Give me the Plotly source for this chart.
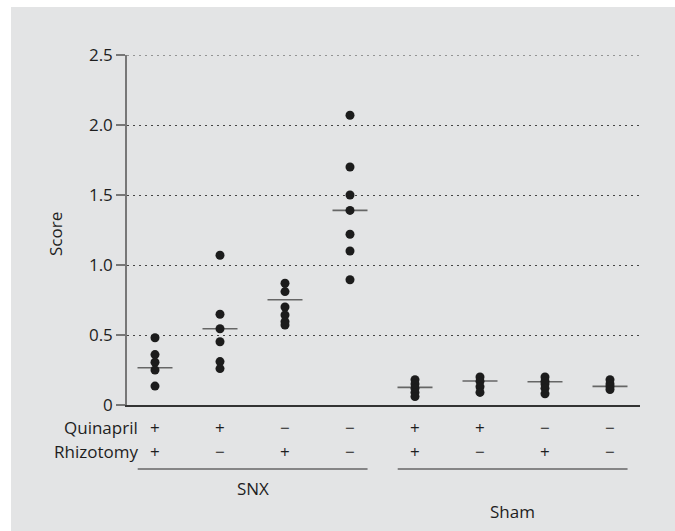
import plotly.graph_objects as go

# ---- data ----
group_x = [1, 2, 3, 4, 5, 6, 7, 8]
scores = [
    [0.48, 0.36, 0.305, 0.25, 0.135],
    [1.07, 0.648, 0.545, 0.452, 0.31, 0.26],
    [0.87, 0.81, 0.70, 0.643, 0.595, 0.571],
    [2.07, 1.70, 1.50, 1.39, 1.22, 1.10, 0.895],
    [0.18, 0.15, 0.12, 0.09, 0.06],
    [0.20, 0.17, 0.13, 0.09],
    [0.20, 0.17, 0.15, 0.12, 0.08],
    [0.18, 0.15, 0.13, 0.11],
]
medians = [0.266, 0.545, 0.752, 1.39, 0.126, 0.171, 0.166, 0.133]
quinapril = ["+", "+", "\u2212", "\u2212", "+", "+", "\u2212", "\u2212"]
rhizotomy = ["+", "\u2212", "+", "\u2212", "+", "\u2212", "+", "\u2212"]
group_names = ["SNX", "Sham"]
group_members = [[1, 2, 3, 4], [5, 6, 7, 8]]
y_ticks = [0, 0.5, 1.0, 1.5, 2.0, 2.5]
y_ticktext = ["0", "0.5", "1.0", "1.5", "2.0", "2.5"]

BG = "#e3e4e5"
FONT = "Open Sans"
TXT = "#1e1e1e"
FS = 17
SYM_FS = 17
GRID_COLOR = "#444444"
GRID_DASH = "2px,4px"

fig = go.Figure()

px_list, py_list = [], []
for gx, vals in zip(group_x, scores):
    for v in vals:
        px_list.append(gx)
        py_list.append(v)

fig.add_trace(go.Scatter(
    x=group_x, y=medians, mode="markers",
    marker=dict(symbol="line-ew", size=25, color="#666666",
                line=dict(color="#666666", width=1.6)),
    cliponaxis=False, hoverinfo="skip", showlegend=False))

fig.add_trace(go.Scatter(
    x=px_list, y=py_list, mode="markers",
    marker=dict(size=9, color="#1c1c1c", line=dict(width=0)),
    cliponaxis=False, showlegend=False))

annotations = []
shapes = []

# row labels
ROW_Q = (405 - 428) / 350
ROW_R = (405 - 451) / 350
for lab, yy in [("Quinapril", ROW_Q), ("Rhizotomy", ROW_R)]:
    annotations.append(dict(text=lab, xref="paper", yref="paper", x=(140 - 127) / 513, y=yy,
                            xanchor="right", yanchor="middle", showarrow=False,
                            font=dict(family=FONT, size=FS, color=TXT)))
for gx, q, r in zip(group_x, quinapril, rhizotomy):
    annotations.append(dict(text=q, xref="x", yref="paper", x=gx, y=ROW_Q,
                            xanchor="center", yanchor="middle", showarrow=False,
                            font=dict(family=FONT, size=SYM_FS, color=TXT)))
    annotations.append(dict(text=r, xref="x", yref="paper", x=gx, y=ROW_R,
                            xanchor="center", yanchor="middle", showarrow=False,
                            font=dict(family=FONT, size=SYM_FS, color=TXT)))

LINE_Y = (405 - 469) / 350
for name, mem, ty in zip(group_names, group_members, [(405 - 488) / 350, (405 - 512) / 350]):
    x0 = mem[0] - 0.266
    x1 = mem[-1] + 0.27
    shapes.append(dict(type="line", xref="x", yref="paper", x0=x0, x1=x1, y0=LINE_Y, y1=LINE_Y,
                       line=dict(color="#666666", width=1.5)))
    annotations.append(dict(text=name, xref="x", yref="paper", x=(mem[0] + mem[-1]) / 2, y=ty,
                            xanchor="center", yanchor="middle", showarrow=False,
                            font=dict(family=FONT, size=FS, color=TXT)))

# top gridline (plotly drops the gridline at the range edge)
shapes.append(dict(type="line", xref="paper", yref="y", x0=0, x1=1, y0=y_ticks[-1], y1=y_ticks[-1],
                   line=dict(color=GRID_COLOR, width=1, dash=GRID_DASH), layer="above"))

# y title
annotations.append(dict(text="Score", xref="paper", yref="paper", x=(55 - 127) / 513, y=(405 - 234) / 350,
                        xanchor="center", yanchor="middle", textangle=-90, showarrow=False,
                        font=dict(family=FONT, size=FS, color=TXT)))

# white border strips (left and top)
shapes.append(dict(type="rect", xref="paper", yref="paper", x0=-127 / 513 - 0.01, x1=(11 - 127) / 513,
                   y0=-1, y1=2, fillcolor="white", line=dict(width=0), layer="below"))
shapes.append(dict(type="rect", xref="paper", yref="paper", x0=-1, x1=2,
                   y0=1 + (55 - 7) / 350, y1=1 + 60 / 350, fillcolor="white", line=dict(width=0), layer="below"))

fig.update_layout(
    width=675, height=531,
    margin=dict(l=127, r=35, t=55, b=126),
    paper_bgcolor=BG, plot_bgcolor=BG,
    font=dict(family=FONT, size=FS, color=TXT),
    annotations=annotations, shapes=shapes,
    xaxis=dict(range=[1 - 28 / 65, 1 + 485 / 65], showgrid=False, zeroline=False,
               showticklabels=False, ticks="", showline=True, linecolor="#333333", linewidth=1.5,
               fixedrange=True),
    yaxis=dict(range=[0, 2.5], tickvals=y_ticks, ticktext=y_ticktext,
               showgrid=True, gridcolor=GRID_COLOR, gridwidth=1, griddash=GRID_DASH,
               zeroline=False, showline=True, linecolor="#777777", linewidth=1.5,
               ticks="outside", ticklen=9, tickwidth=1.5, tickcolor="#777777",
               tickfont=dict(family=FONT, size=FS, color=TXT), fixedrange=True),
)

fig.write_html("out.html", config={"displayModeBar": False},
               post_script="document.body.style.margin='0px';document.body.style.overflow='hidden';")
